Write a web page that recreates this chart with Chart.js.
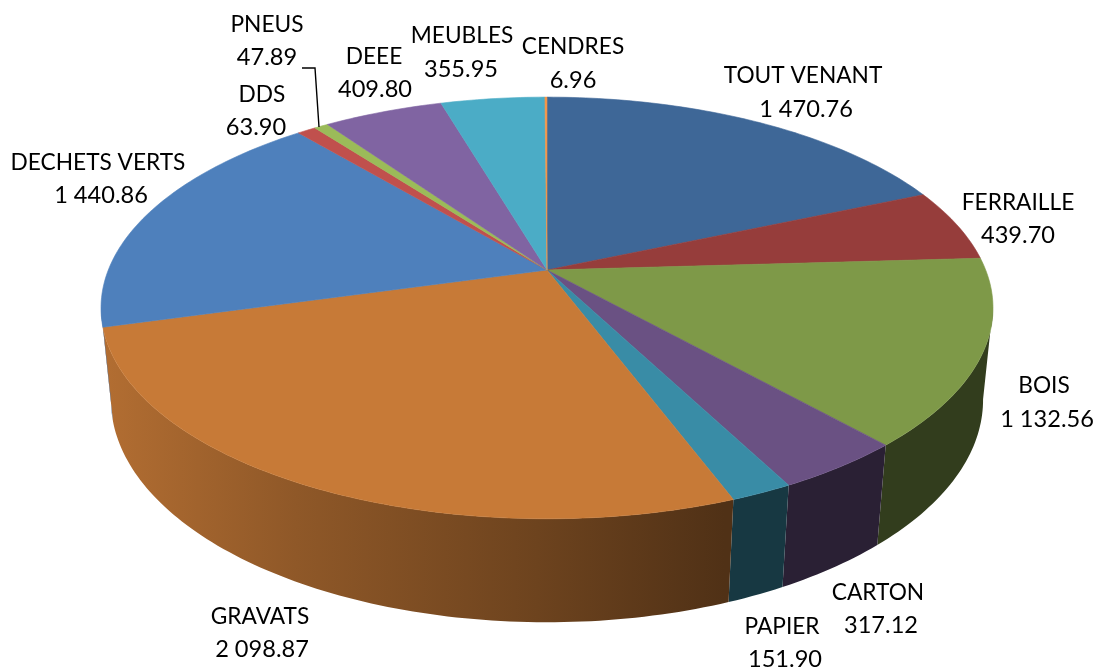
<!DOCTYPE html>
<html><head><meta charset="utf-8">
<style>html,body{margin:0;padding:0;background:#fff}#w{width:1106px;height:671px}canvas{display:block}</style>
<script src="https://cdn.jsdelivr.net/npm/chart.js@4"></script></head>
<body><div id="w"><canvas id="c" width="1106" height="671"></canvas></div>
<script>
const categories = ["TOUT VENANT","FERRAILLE","BOIS","CARTON","PAPIER","GRAVATS","DECHETS VERTS","DDS","PNEUS","DEEE","MEUBLES","CENDRES"];
const values = [1470.76,439.70,1132.56,317.12,151.90,2098.87,1440.86,63.90,47.89,409.80,355.95,6.96];
const colors = ["#3E6797","#963D3B","#7E9948","#6A5183","#398CA6","#C77A37","#4E80BC","#C0504D","#9BBB59","#8064A2","#4BACC6","#F79646"];
const labelNameAt = [[803,76],[1018,203],[1044,386],[878,593],[782,627],[260,617],[98,163],[262,95],[267,25],[374,57],[462,36],[573,47]];
const labelValueAt = [[806,109],[1018,235],[1047,419],[881,625],[785,659],[262,649],[101,195],[256,127],[267,57],[375,89],[461,69],[573,80]];
const leaderLine = [[302,68],[315,68],[319,127]];
const wallShadeStops = [[0,.90],[.22,.72],[.49,.55],[.70,.40],[1,.40]];

// perspective of the disc
const A=438.7,B=204,C=92.6,Q=.18,R=.022;
function project(cx,cy,a,h){
  const u=Math.cos(a),v=Math.sin(a),w=1-Q*v+R*h;
  return [cx+A*u/w, cy+(B*v+C*h)/w];
}
function fmt(n){
  const s=n.toFixed(2).split('.');
  return s[0].replace(/\B(?=(\d{3})+$)/g,' ')+'.'+s[1];
}
function shade(hex,f){
  const n=parseInt(hex.slice(1),16);
  return `rgb(${Math.round((n>>16&255)*f)},${Math.round((n>>8&255)*f)},${Math.round((n&255)*f)})`;
}
const STEP=Math.PI/180;
Chart.ArcElement.prototype.draw=function(ctx){
  const cx=this.x,cy=this.y,a0=this.startAngle,a1=this.endAngle;
  ctx.save();
  ctx.beginPath();
  ctx.moveTo(cx,cy);
  const n=Math.max(1,Math.ceil((a1-a0)/STEP));
  for(let i=0;i<=n;i++){const p=project(cx,cy,a0+(a1-a0)*i/n,0);ctx.lineTo(p[0],p[1]);}
  ctx.closePath();
  ctx.fillStyle=this.options.backgroundColor;
  ctx.fill();
  ctx.lineWidth=.6;ctx.strokeStyle=this.options.backgroundColor;ctx.stroke();
  ctx.restore();
};
const pie3d={
  id:'pie3d',
  beforeDatasetsDraw(chart){
    const ctx=chart.ctx, arcs=chart.getDatasetMeta(0).data;
    const lo=10*STEP, hi=170*STEP;
    arcs.forEach((el,idx)=>{
      const a0=Math.max(el.startAngle,lo), a1=Math.min(el.endAngle,hi);
      if(a1<=a0) return;
      const n=Math.max(1,Math.ceil((a1-a0)/STEP));
      const g=ctx.createLinearGradient(100,0,992,0);
      wallShadeStops.forEach(s=>g.addColorStop(s[0],shade(colors[idx],s[1])));
      ctx.beginPath();
      for(let i=0;i<=n;i++){const p=project(el.x,el.y,a0+(a1-a0)*i/n,0);i?ctx.lineTo(p[0],p[1]):ctx.moveTo(p[0],p[1]);}
      for(let i=n;i>=0;i--){const p=project(el.x,el.y,a0+(a1-a0)*i/n,1);ctx.lineTo(p[0],p[1]);}
      ctx.closePath();
      ctx.fillStyle=g;ctx.fill();
    });
  },
  afterDraw(chart){
    const ctx=chart.ctx;
    ctx.save();
    ctx.strokeStyle='#000';ctx.lineWidth=1.4;
    ctx.beginPath();
    leaderLine.forEach((p,i)=>i?ctx.lineTo(p[0],p[1]):ctx.moveTo(p[0],p[1]));
    ctx.stroke();
    ctx.fillStyle='#000';
    ctx.textAlign='center';ctx.textBaseline='middle';
    categories.forEach((t,i)=>{
      ctx.font='22.7px Lato';
      ctx.fillText(t,labelNameAt[i][0],labelNameAt[i][1]);
      ctx.font='23.6px Lato';
      ctx.fillText(fmt(values[i]),labelValueAt[i][0],labelValueAt[i][1]);
    });
    ctx.restore();
  }
};
new Chart(document.getElementById('c'),{
  type:'pie',
  data:{labels:categories,datasets:[{data:values,backgroundColor:colors,borderWidth:0}]},
  options:{
    responsive:false,animation:false,
    layout:{padding:{left:0,right:12,top:0,bottom:131}},
    plugins:{legend:{display:false},tooltip:{enabled:false}}
  },
  plugins:[pie3d]
});
</script></body></html>
